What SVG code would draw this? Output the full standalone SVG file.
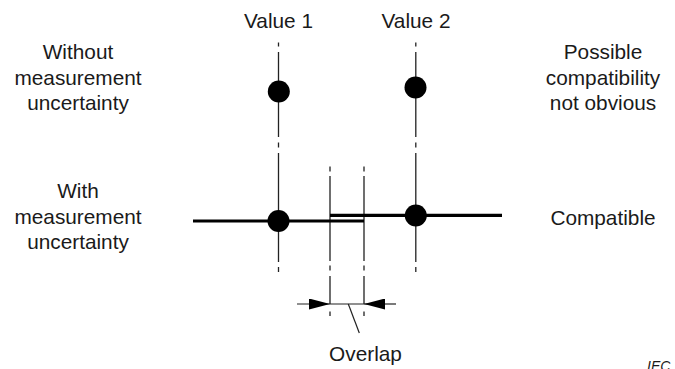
<svg xmlns="http://www.w3.org/2000/svg" width="675" height="369" viewBox="0 0 675 369">
  <style>
    .lbl { font-family: "Liberation Sans", Arial, sans-serif; font-size: 20.8px; fill: #1a1a1a; text-anchor: middle; }
    .axis { stroke: #222; stroke-width: 1.3; fill: none; }
    .bar { stroke: #000; stroke-width: 3.2; fill: none; }
    .dot { fill: #000; }
    .thin { stroke: #222; stroke-width: 1.2; fill: none; }
    .iec { font-family: "Liberation Sans", Arial, sans-serif; font-size: 14px; font-style: italic; fill: #1a1a1a; }
  </style>
  <defs>
    <marker id="arrow" viewBox="0 0 21 11" refX="21" refY="5.5" markerWidth="21" markerHeight="11" markerUnits="userSpaceOnUse" orient="auto">
      <path d="M0,0 L21,5.5 L0,11 Z" fill="#000"/>
    </marker>
  </defs>

  <!-- Row and column labels -->
  <g id="label-value1"><text class="lbl" x="278.5" y="28">Value 1</text></g>
  <g id="label-value2"><text class="lbl" x="416" y="28">Value 2</text></g>
  <g id="label-without">
    <text class="lbl" x="78" y="58.5">Without</text>
    <text class="lbl" x="78" y="84.5">measurement</text>
    <text class="lbl" x="78" y="109.5">uncertainty</text>
  </g>
  <g id="label-possible">
    <text class="lbl" x="603" y="58.5">Possible</text>
    <text class="lbl" x="603" y="84.5">compatibility</text>
    <text class="lbl" x="603" y="109.5">not obvious</text>
  </g>
  <g id="label-with">
    <text class="lbl" x="78" y="198">With</text>
    <text class="lbl" x="78" y="223.5">measurement</text>
    <text class="lbl" x="78" y="248.5">uncertainty</text>
  </g>
  <g id="label-compatible"><text class="lbl" x="603" y="225">Compatible</text></g>
  <g id="label-overlap"><text class="lbl" x="365.5" y="360.5">Overlap</text></g>
  <g id="label-iec"><text class="iec" x="647" y="371">IEC</text></g>

  <!-- Connectors: centre lines, uncertainty bars, overlap dimension -->
  <g id="connectors">
    <!-- centre line of value 1 -->
    <path class="axis" d="M278.5,42.5 V46.5 M278.5,52 V137 M278.5,142.5 V147.5 M278.5,153 V262 M278.5,267 V272"/>
    <!-- centre line of value 2 -->
    <path class="axis" d="M415.8,42.5 V46.5 M415.8,52 V137 M415.8,142.5 V147.5 M415.8,153 V262 M415.8,267 V272"/>
    <!-- overlap extension lines -->
    <path class="axis" d="M330,166.5 V171.5 M330,176 V261 M330,265.5 V270.5 M330,276 V304 M330,311.5 V316"/>
    <path class="axis" d="M364,166.5 V171.5 M364,176 V261 M364,265.5 V270.5 M364,276 V304 M364,311.5 V316"/>
    <!-- uncertainty bars -->
    <line class="bar" x1="193" y1="221" x2="364" y2="221"/>
    <line class="bar" x1="330" y1="215.3" x2="502" y2="215.3"/>
    <!-- overlap dimension -->
    <line class="thin" x1="297" y1="304" x2="330" y2="304" marker-end="url(#arrow)"/>
    <line class="thin" x1="396" y1="304" x2="364" y2="304" marker-end="url(#arrow)"/>
    <line class="thin" x1="330" y1="304" x2="364" y2="304"/>
    <line class="thin" x1="348.3" y1="304" x2="359.3" y2="333"/>
  </g>

  <!-- Measured values -->
  <g id="point-v1-plain"><circle class="dot" cx="278.8" cy="91.5" r="11"/></g>
  <g id="point-v2-plain"><circle class="dot" cx="415.5" cy="87.5" r="11"/></g>
  <g id="point-v1-uncertain"><circle class="dot" cx="278.5" cy="221" r="11"/></g>
  <g id="point-v2-uncertain"><circle class="dot" cx="415.8" cy="215.5" r="11"/></g>
</svg>
